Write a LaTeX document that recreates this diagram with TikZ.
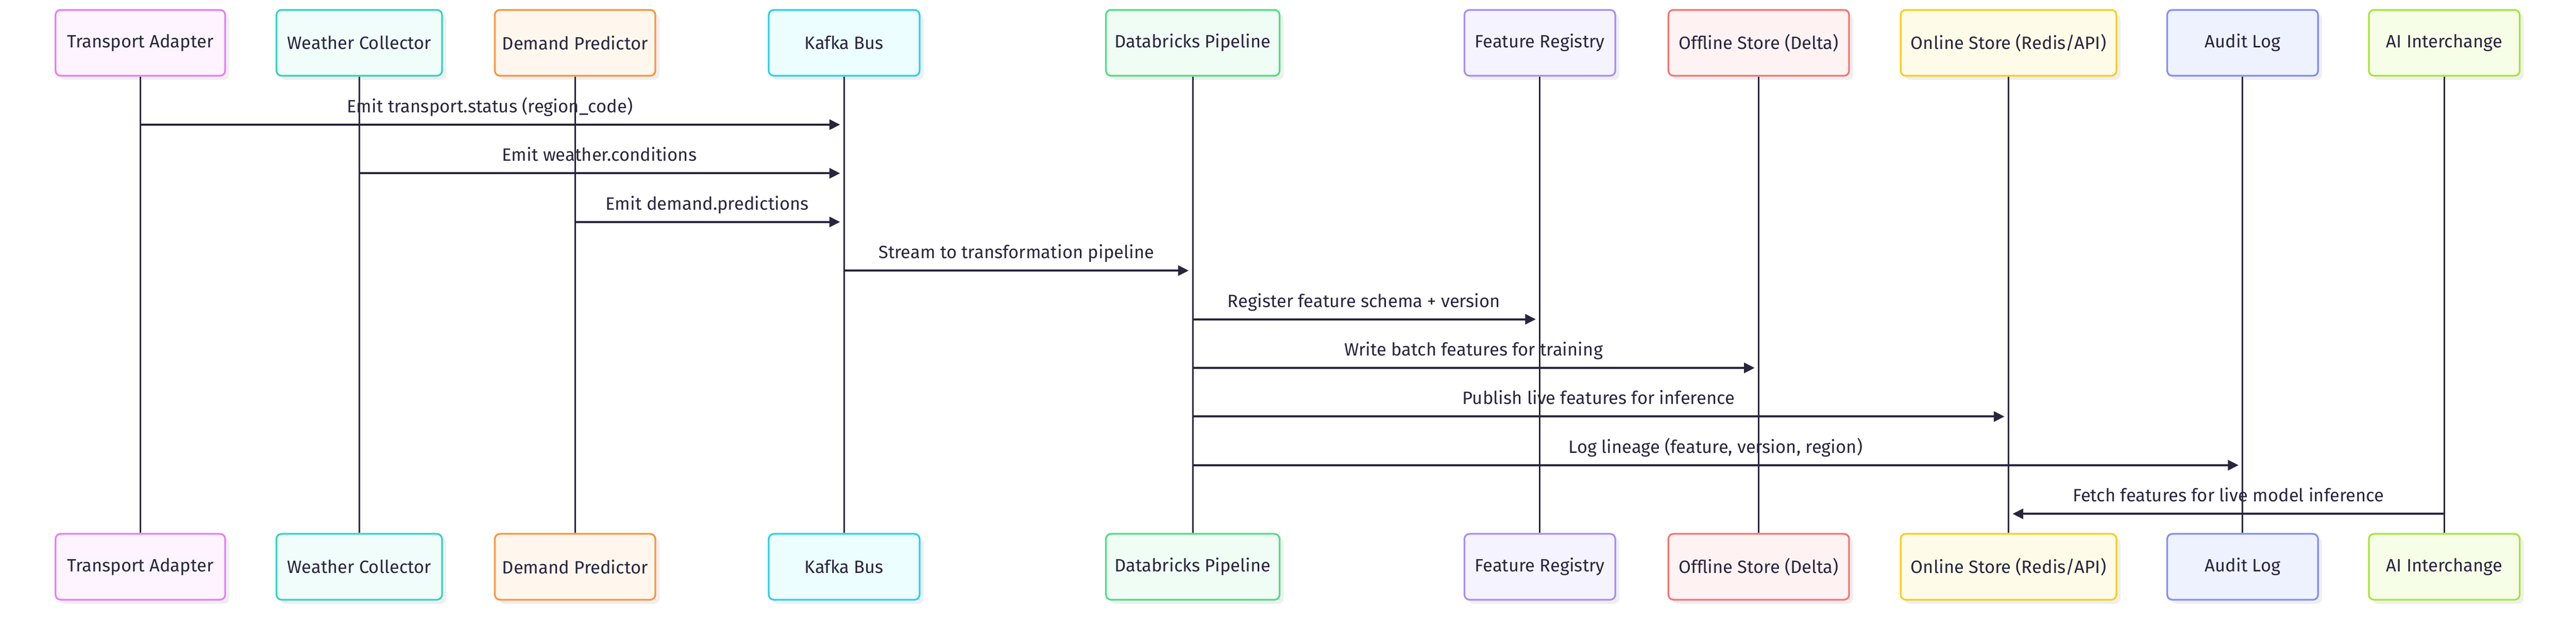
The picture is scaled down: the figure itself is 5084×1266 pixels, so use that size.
\documentclass[tikz,border=0pt]{standalone}
\usepackage{fontspec}
\setmainfont{Fira Sans}
\usetikzlibrary{arrows.meta,shadows}
\definecolor{ink}{HTML}{28253D}
\definecolor{bdA}{HTML}{E879F9}\definecolor{fA}{HTML}{FDF4FF}
\definecolor{bdB}{HTML}{2DD4BF}\definecolor{fB}{HTML}{F0FDFA}
\definecolor{bdC}{HTML}{FB923C}\definecolor{fC}{HTML}{FFF7ED}
\definecolor{bdD}{HTML}{22D3EE}\definecolor{fD}{HTML}{ECFEFF}
\definecolor{bdE}{HTML}{4ADE80}\definecolor{fE}{HTML}{F0FDF4}
\definecolor{bdF}{HTML}{A78BFA}\definecolor{fF}{HTML}{F5F3FF}
\definecolor{bdG}{HTML}{F87171}\definecolor{fG}{HTML}{FEF2F2}
\definecolor{bdH}{HTML}{FACC15}\definecolor{fH}{HTML}{FEFCE8}
\definecolor{bdI}{HTML}{818CF8}\definecolor{fI}{HTML}{EEF2FF}
\definecolor{bdJ}{HTML}{A3E635}\definecolor{fJ}{HTML}{F7FEE7}
\definecolor{shade}{HTML}{EFEFEF}
\tikzset{
  actor/.style n args={3}{draw=#1, fill=#2, line width=1.65pt, rounded corners=5pt,
    minimum width=#3*0.5pt-1.65pt, minimum height=65pt, inner sep=0pt, text=ink,
    font=\fontsize{17.6pt}{20pt}\selectfont,
    drop shadow={shadow xshift=4pt, shadow yshift=-4pt, fill=shade, opacity=1}},
  lifeline/.style={draw=ink, line width=1.5pt},
  msg/.style={draw=ink, line width=2pt, shorten >=4pt,
    -{Triangle[length=10.5pt,width=10pt]}},
  msglabel/.style={text=ink, anchor=base, inner sep=0pt,
    font=\fontsize{17.6pt}{20pt}\selectfont}
}
\begin{document}
\begin{tikzpicture}[x=0.5pt,y=-0.5pt]
\useasboundingbox (0,0) rectangle (5084,1266);
% top actors
\node[actor={bdA}{fA}{338}] (tA) at (277,84.5) {Transport Adapter};
\node[actor={bdB}{fB}{330}] (tB) at (709,84.5) {Weather Collector};
\node[actor={bdC}{fC}{320}] (tC) at (1135,84.5) {Demand Predictor};
\node[actor={bdD}{fD}{301}] (tD) at (1666,84.5) {Kafka Bus};
\node[actor={bdE}{fE}{346}] (tE) at (2354,84.5) {Databricks Pipeline};
\node[actor={bdF}{fF}{301}] (tF) at (3039,84.5) {Feature Registry};
\node[actor={bdG}{fG}{360}] (tG) at (3471,84.5) {Offline Store (Delta)};
\node[actor={bdH}{fH}{429}] (tH) at (3964,84.5) {Online Store (Redis/API)};
\node[actor={bdI}{fI}{301}] (tI) at (4426,84.5) {Audit Log};
\node[actor={bdJ}{fJ}{301}] (tJ) at (4824,84.5) {AI Interchange};
% bottom actors
\node[actor={bdA}{fA}{338}] (bA) at (277,1118.5) {Transport Adapter};
\node[actor={bdB}{fB}{330}] (bB) at (709,1118.5) {Weather Collector};
\node[actor={bdC}{fC}{320}] (bC) at (1135,1118.5) {Demand Predictor};
\node[actor={bdD}{fD}{301}] (bD) at (1666,1118.5) {Kafka Bus};
\node[actor={bdE}{fE}{346}] (bE) at (2354,1118.5) {Databricks Pipeline};
\node[actor={bdF}{fF}{301}] (bF) at (3039,1118.5) {Feature Registry};
\node[actor={bdG}{fG}{360}] (bG) at (3471,1118.5) {Offline Store (Delta)};
\node[actor={bdH}{fH}{429}] (bH) at (3964,1118.5) {Online Store (Redis/API)};
\node[actor={bdI}{fI}{301}] (bI) at (4426,1118.5) {Audit Log};
\node[actor={bdJ}{fJ}{301}] (bJ) at (4824,1118.5) {AI Interchange};
% lifelines
\foreach \n in {A,B,C,D,E,F,G,H,I,J}{
  \draw[lifeline] (t\n.south) -- (b\n.north);
}
% message rows
\coordinate (r1) at (0,246);
\coordinate (r2) at (0,342);
\coordinate (r3) at (0,438);
\coordinate (r4) at (0,534);
\coordinate (r5) at (0,630);
\coordinate (r6) at (0,726);
\coordinate (r7) at (0,822);
\coordinate (r8) at (0,918);
\coordinate (r9) at (0,1014);
\draw[msg] (tA |- r1) -- (tD |- r1);
\draw[msg] (tB |- r2) -- (tD |- r2);
\draw[msg] (tC |- r3) -- (tD |- r3);
\draw[msg] (tD |- r4) -- (tE |- r4);
\draw[msg] (tE |- r5) -- (tF |- r5);
\draw[msg] (tE |- r6) -- (tG |- r6);
\draw[msg] (tE |- r7) -- (tH |- r7);
\draw[msg] (tE |- r8) -- (tI |- r8);
\draw[msg] (tJ |- r9) -- (tH |- r9);
% labels
\node[msglabel] (l1) at (967,222) {Emit transport.status (region\_code)};
\node[msglabel] (l2) at (1183,318) {Emit weather.conditions};
\node[msglabel] (l3) at (1396,414) {Emit demand.predictions};
\node[msglabel] (l4) at (2006,510) {Stream to transformation pipeline};
\node[msglabel] (l5) at (2692,606) {Register feature schema + version};
\node[msglabel] (l6) at (2908,702) {Write batch features for training};
\node[msglabel] (l7) at (3155,798) {Publish live features for inference};
\node[msglabel] (l8) at (3386,894) {Log lineage (feature, version, region)};
\node[msglabel] (l9) at (4398,990) {Fetch features for live model inference};
\end{tikzpicture}
\end{document}
